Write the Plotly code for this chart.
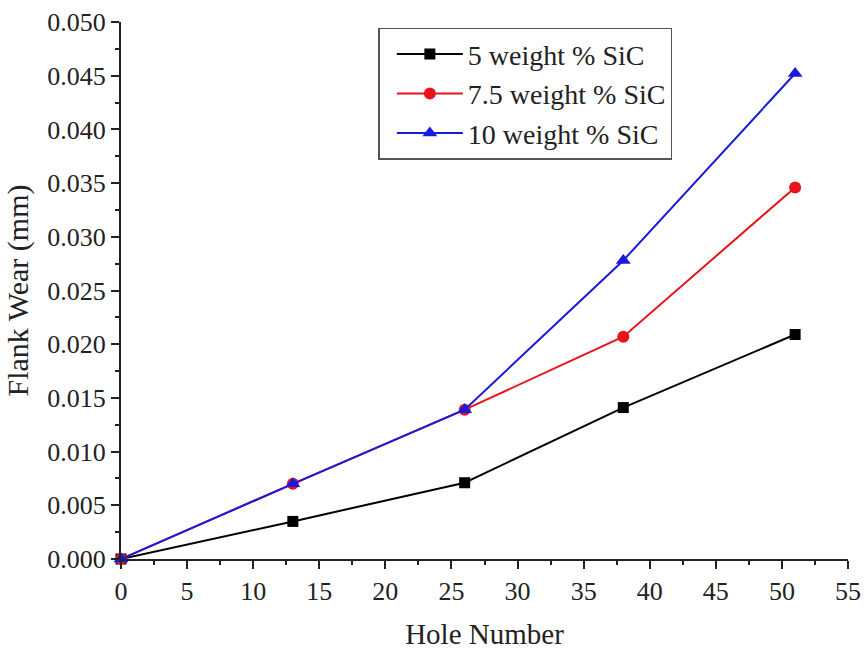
import plotly.graph_objects as go

holes = [0, 13, 26, 38, 51]
wear_5 = [0.0, 0.0035, 0.0071, 0.0141, 0.0209]
wear_75 = [0.0, 0.0070, 0.0139, 0.0207, 0.0346]
wear_10 = [0.0, 0.0070, 0.0139, 0.0278, 0.0452]
names = ["5 weight % SiC", "7.5 weight % SiC", "10 weight % SiC"]

FONT = "Liberation Serif, Times New Roman, serif"

fig = go.Figure()
fig.add_trace(go.Scatter(x=holes, y=wear_5, name=names[0], mode="lines+markers",
                         line=dict(color="black", width=2),
                         marker=dict(symbol="square", size=11, color="black"), cliponaxis=False))
fig.add_trace(go.Scatter(x=holes, y=wear_75, name=names[1], mode="lines+markers",
                         line=dict(color="#e8141c", width=2),
                         marker=dict(symbol="circle", size=12, color="#e8141c"), cliponaxis=False))
fig.add_trace(go.Scatter(x=holes, y=wear_10, name=names[2], mode="lines+markers",
                         line=dict(color="#1a1adc", width=2),
                         marker=dict(symbol="triangle-up", size=13, color="#1a1adc"), cliponaxis=False))

axis_common = dict(showline=True, linecolor="#222", linewidth=2, ticks="outside",
                   ticklen=8, tickwidth=2, tickcolor="#222", showgrid=False, zeroline=False,
                   automargin=False,
                   tickfont=dict(family=FONT, size=26, color="#222"))

fig.update_xaxes(range=[0, 55], dtick=5, tick0=0,
                 minor=dict(ticks="outside", ticklen=4, tickwidth=2, tickcolor="#222", dtick=2.5, tick0=0),
                 title=dict(text="Hole Number", font=dict(family=FONT, size=29, color="#222"), standoff=18),
                 **axis_common)
fig.update_yaxes(range=[0, 0.05], dtick=0.005, tick0=0, tickformat=".3f",
                 minor=dict(ticks="outside", ticklen=4, tickwidth=2, tickcolor="#222", dtick=0.0025, tick0=0),
                 title=dict(text="Flank Wear (mm)", font=dict(family=FONT, size=30, color="#222"), standoff=10),
                 **axis_common)

fig.update_layout(
    width=865, height=652,
    margin=dict(l=121, r=17, t=22, b=93),
    paper_bgcolor="white", plot_bgcolor="white",
    font=dict(family=FONT, color="#222"),
    legend=dict(x=0.354, y=0.989, xanchor="left", yanchor="top",
                bordercolor="#555", borderwidth=1.5, bgcolor="white",
                font=dict(family=FONT, size=28, color="#222"),
                itemwidth=66, indentation=12, tracegroupgap=0),
)

fig.write_html("out.html")
